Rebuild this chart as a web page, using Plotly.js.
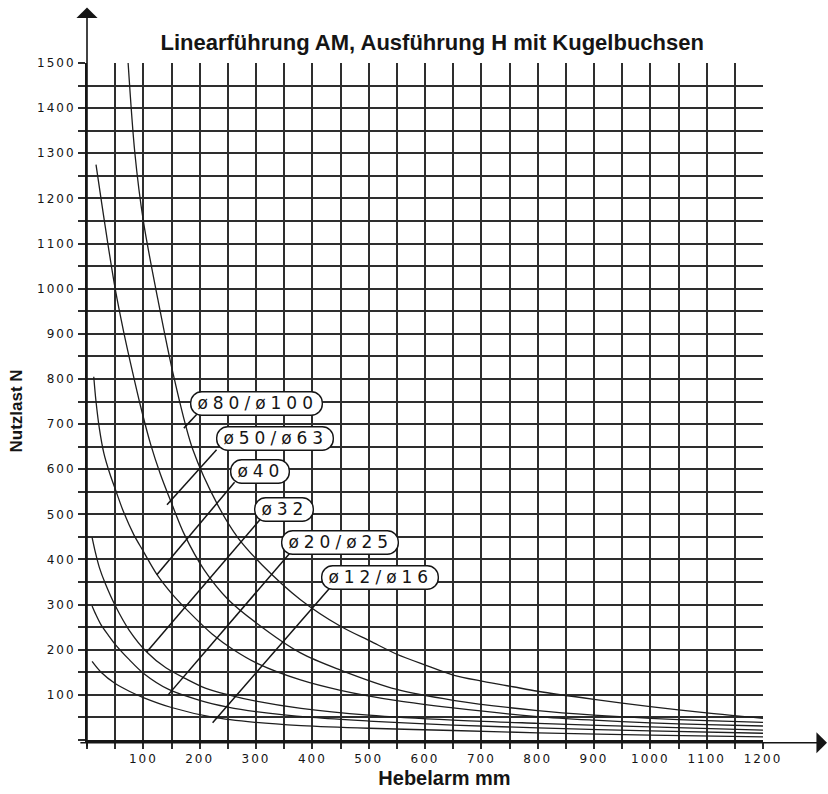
<!DOCTYPE html>
<html>
<head>
<meta charset="utf-8">
<script src="https://cdn.plot.ly/plotly-3.0.1.min.js"></script>
<style>
  html, body { margin: 0; padding: 0; background: #fff; }
  #chart { width: 828px; height: 794px; }
  .xtick text, .ytick text { letter-spacing: 2px; }
  .annotation-text { letter-spacing: 5px; }
</style>
</head>
<body>
<div id="chart"></div>
<script>
// ---- Data ----
const xTickVals = [100, 200, 300, 400, 500, 600, 700, 800, 900, 1000, 1100, 1200];
const yTickVals = [100, 200, 300, 400, 500, 600, 700, 800, 900, 1000, 1100, 1200, 1300, 1400, 1500];

// ø80/ø100
const x80 = [73, 85, 100, 126, 155, 188, 232, 268, 310, 379, 450, 503, 550, 603, 650, 703, 756, 800, 900, 1000, 1100, 1200];
const y80 = [1500, 1300, 1150, 975, 800, 643, 521, 448, 389, 311, 252, 219, 190, 165, 144, 130, 118, 108, 90, 74, 60, 48];
// ø50/ø63
const x50 = [16, 26, 37, 50, 65, 80, 95, 113, 130, 150, 173, 208, 250, 300, 379, 450, 550, 650, 800, 900, 1000, 1100, 1200];
const y50 = [1275, 1190, 1100, 1000, 905, 820, 740, 655, 590, 525, 455, 377, 312, 260, 193, 155, 112, 88, 65, 55, 48, 43, 39];
// ø40
const x40 = [12, 16, 22, 30, 40, 51, 65, 83, 100, 124, 150, 180, 222, 260, 305, 379, 450, 550, 650, 800, 900, 1000, 1100, 1200];
const y40 = [805, 750, 690, 635, 592, 553, 505, 455, 418, 367, 325, 285, 235, 200, 168, 133, 110, 87, 71, 52, 44, 38, 34, 31];
// ø32
const x32 = [9, 15, 22, 33, 50, 75, 106, 140, 175, 210, 251, 300, 380, 500, 650, 800, 1000, 1200];
const y32 = [449, 415, 382, 345, 298, 243, 195, 160, 136, 115, 100, 86, 70, 55, 44, 37, 29, 22];
// ø20/ø25
const x20 = [9, 15, 25, 38, 50, 75, 100, 145, 200, 250, 300, 400, 500, 650, 800, 1000, 1200];
const y20 = [297, 280, 255, 232, 212, 178, 148, 112, 88, 73, 63, 50, 42, 33, 27, 20, 15];
// ø12/ø16
const x12 = [9, 25, 50, 75, 100, 150, 225, 300, 380, 500, 650, 800, 1000, 1200];
const y12 = [174, 150, 125, 108, 94, 72, 50, 39, 32, 26, 21, 16, 11, 7];

const seriesNames = ['ø80/ø100', 'ø50/ø63', 'ø40', 'ø32', 'ø20/ø25', 'ø12/ø16'];
const seriesX = [x80, x50, x40, x32, x20, x12];
const seriesY = [y80, y50, y40, y32, y20, y12];

// Label boxes: centre, leader start (box corner) and leader end (on curve)
const labelPos = [
  { cx: 303, cy: 745, sx: 195, sy: 722, ex: 172, ey: 691 },
  { cx: 335, cy: 669, sx: 230, sy: 643, ex: 142, ey: 521 },
  { cx: 308, cy: 596, sx: 262, sy: 571, ex: 124, ey: 366 },
  { cx: 351, cy: 510, sx: 307, sy: 488, ex: 106, ey: 195 },
  { cx: 450, cy: 437, sx: 360, sy: 414, ex: 144, ey: 100 },
  { cx: 521, cy: 359, sx: 431, sy: 337, ex: 223, ey: 38 }
];

const INK = '#151515';
const GRID = '#2e2e2e';
const traces = seriesNames.map((n, i) => ({
  type: 'scatter', mode: 'lines', name: n,
  x: seriesX[i], y: seriesY[i],
  line: { color: '#1e1e1e', width: 1.3, shape: 'spline', smoothing: 0.9 },
  hoverinfo: 'skip', showlegend: false
}));

const shapes = labelPos.map(p => ({
  type: 'line', xref: 'x', yref: 'y',
  x0: p.sx, y0: p.sy, x1: p.ex, y1: p.ey,
  line: { color: INK, width: 1.5 }
}));

const annotations = labelPos.map((p, i) => ({
  x: p.cx, y: p.cy, xref: 'x', yref: 'y',
  text: seriesNames[i], showarrow: false,
  font: { family: 'DejaVu Sans', size: 17, color: INK },
  bgcolor: '#fff', bordercolor: INK, borderwidth: 1.4, borderpad: 1,
  xanchor: 'center', yanchor: 'middle'
}));
// axis arrows
annotations.push({
  xref: 'x', yref: 'paper', x: 0, y: 1.082, axref: 'x', ayref: 'paper', ax: 0, ay: -0.012,
  text: '', showarrow: true, arrowhead: 1, arrowsize: 2.2, arrowwidth: 1.6, arrowcolor: INK
});
annotations.push({
  xref: 'paper', yref: 'paper', x: 1.097, y: -0.004, axref: 'paper', ayref: 'paper', ax: -0.012, ay: -0.004,
  text: '', showarrow: true, arrowhead: 1, arrowsize: 2.2, arrowwidth: 1.6, arrowcolor: INK
});

const tickFont = { family: 'DejaVu Sans', size: 12, color: INK };
const layout = {
  width: 828, height: 794,
  margin: { l: 87, r: 65, t: 63, b: 54 },
  paper_bgcolor: '#fff', plot_bgcolor: '#fff',
  title: {
    text: '<b>Linearführung AM, Ausführung H mit Kugelbuchsen</b>',
    x: 0.522, xanchor: 'center', xref: 'container',
    y: 0.947, yanchor: 'middle', yref: 'container',
    font: { family: 'Liberation Sans', size: 22, color: INK }
  },
  xaxis: {
    range: [0, 1200], tickvals: xTickVals, ticktext: xTickVals.map(String),
    showgrid: true, gridcolor: GRID, gridwidth: 2,
    ticks: 'outside', ticklen: 7, tickwidth: 2, tickcolor: GRID,
    minor: { tick0: 0, dtick: 50, showgrid: true, gridcolor: GRID, gridwidth: 2, ticks: 'outside', ticklen: 7, tickwidth: 2, tickcolor: GRID },
    showline: true, linecolor: INK, linewidth: 2, zeroline: false,
    tickfont: tickFont, fixedrange: true,
    title: { text: '&nbsp;&nbsp;&nbsp;&nbsp;&nbsp;&nbsp;&nbsp;<b>Hebelarm mm</b>', font: { family: 'Liberation Sans', size: 20, color: INK }, standoff: 6 }
  },
  yaxis: {
    range: [0, 1500], tickvals: yTickVals, ticktext: yTickVals.map(String),
    showgrid: true, gridcolor: GRID, gridwidth: 2,
    ticks: 'outside', ticklen: 7, tickwidth: 2, tickcolor: GRID,
    minor: { tick0: 0, dtick: 50, showgrid: true, gridcolor: GRID, gridwidth: 2, ticks: 'outside', ticklen: 7, tickwidth: 2, tickcolor: GRID },
    showline: true, linecolor: INK, linewidth: 2, zeroline: false,
    tickfont: tickFont, fixedrange: true,
    title: { text: '<b>Nutzlast N</b>&nbsp;&nbsp;&nbsp;&nbsp;', font: { family: 'Liberation Sans', size: 17, color: INK }, standoff: 10 }
  },
  shapes: shapes,
  annotations: annotations
};

Plotly.newPlot('chart', traces, layout, { displayModeBar: false, staticPlot: true }).then(() => {
  document.querySelectorAll('.annotation rect.bg').forEach(r => {
    const x = parseFloat(r.getAttribute('x') || '0');
    const w = parseFloat(r.getAttribute('width') || '0');
    if (w > 4) {
      r.setAttribute('x', x - 5);
      r.setAttribute('width', w + 8);
    }
    r.setAttribute('rx', 11); r.setAttribute('ry', 11);
  });
});
</script>
</body>
</html>
